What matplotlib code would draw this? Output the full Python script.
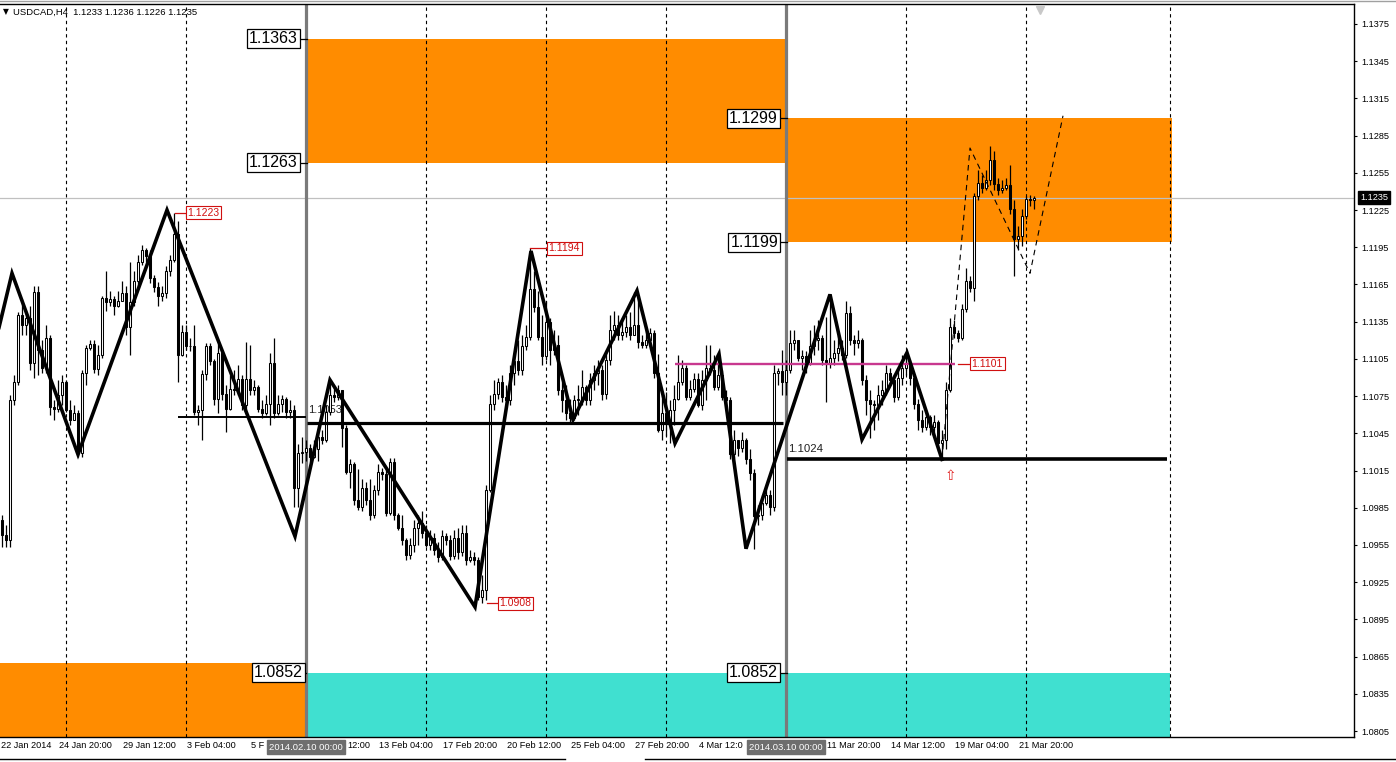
import numpy as np
import matplotlib
matplotlib.use('Agg')
import matplotlib.pyplot as plt
import matplotlib.transforms as mtransforms
from matplotlib.patches import Rectangle

plt.rcParams['font.family'] = ['Liberation Sans', 'DejaVu Sans']

# ---------------- data (USDCAD H4, prices in pips = price*1e4) ----------------
open0 = 10975
close_pips = [
10963,10959,11072,11086,11140,11132,11138,11102,11159,11112,
11098,11122,11066,11065,11076,11086,11064,11056,11061,11029,
11094,11114,11117,11097,11108,11154,11151,11153,11148,11152,
11158,11131,11151,11168,11183,11193,11188,11170,11163,11156,
11158,11176,11185,11206,11108,11127,11115,11115,11062,11064,
11093,11115,11103,11073,11110,11077,11065,11081,11080,11089,
11068,11089,11080,11082,11065,11061,11069,11102,11061,11069,
11073,11062,11064,11001,11029,11030,11033,11026,11032,11042,
11040,11062,11076,11074,11080,11049,11014,11020,10991,10986,
11001,10991,10979,10999,11014,11012,10981,11022,10979,10969,
10959,10947,10955,10969,10973,10965,10955,10961,10951,10945,
10962,10959,10946,10961,10949,10965,10943,10945,10943,10913,
10919,10999,11069,11077,11086,11074,11072,11094,11103,11096,
11115,11123,11161,11147,11123,11107,11135,11112,11116,11080,
11072,11061,11057,11072,11073,11082,11072,11088,11094,11096,
11077,11104,11128,11132,11124,11127,11131,11124,11132,11119,
11116,11120,11126,11094,11048,11061,11053,11064,11073,11086,
11098,11074,11081,11089,11068,11088,11098,11096,11082,11092,
11074,11072,11028,11040,11033,11040,11024,11013,10978,10979,
10989,10995,10986,11094,11095,11086,11096,11118,11120,11106,
11107,11102,11115,11120,11122,11104,11102,11106,11110,11114,
11108,11142,11120,11118,11120,11088,11072,11069,11068,11076,
11080,11094,11088,11074,11090,11098,11102,11090,11069,11056,
11050,11058,11050,11054,11037,11040,11080,11131,11126,11122,
11145,11168,11162,11236,11247,11243,11249,11265,11246,11241,
11243,11245,11226,11202,11204,11220,11234,11233,11235]
high_pips = [
10979,10971,11076,11092,11143,11153,11144,11148,11164,11164,
11120,11132,11124,11072,11088,11092,11088,11072,11068,11064,
11096,11116,11120,11120,11116,11156,11176,11160,11156,11160,
11168,11164,11183,11176,11189,11197,11194,11193,11173,11167,
11164,11180,11189,11223,11216,11132,11132,11122,11132,11068,
11096,11118,11118,11105,11117,11112,11084,11092,11096,11100,
11092,11119,11116,11088,11084,11072,11076,11110,11122,11076,
11076,11074,11072,11068,11036,11042,11040,11036,11040,11048,
11048,11068,11088,11084,11084,11080,11052,11024,11022,11016,
11008,11006,11008,11003,11020,11017,11016,11025,11025,10981,
10979,10961,10961,10975,10979,10982,10971,10967,10965,10957,
10967,10965,10963,10967,10969,10971,10971,10951,10949,10945,
10931,11003,11076,11088,11090,11092,11084,11100,11108,11120,
11124,11132,11194,11176,11160,11140,11152,11138,11128,11124,
11086,11084,11073,11076,11084,11096,11084,11094,11100,11104,
11100,11112,11140,11144,11140,11138,11140,11143,11159,11156,
11124,11128,11130,11128,11109,11076,11078,11072,11084,11108,
11104,11100,11088,11094,11094,11096,11116,11116,11108,11110,
11096,11080,11074,11048,11040,11046,11041,11032,11016,10987,
10995,11003,10999,11100,11098,11112,11104,11128,11128,11120,
11112,11111,11128,11132,11136,11124,11139,11156,11120,11124,
11120,11152,11148,11124,11128,11122,11092,11080,11072,11084,
11088,11100,11098,11092,11096,11108,11110,11104,11092,11073,
11064,11064,11060,11060,11056,11048,11086,11138,11136,11128,
11149,11178,11172,11239,11257,11253,11257,11277,11273,11251,
11249,11251,11261,11233,11212,11226,11236,11237,11236]
low_pips = [
10953,10953,10953,11068,11084,11124,11124,11096,11090,11092,
11094,11094,11060,11056,11062,11068,11062,11052,11056,11026,
11026,11084,11112,11094,11092,11106,11144,11148,11140,11147,
11152,11124,11108,11148,11164,11181,11183,11166,11159,11148,
11152,11154,11172,11183,11086,11107,11112,11111,11060,11052,
11040,11088,11100,11068,11061,11072,11046,11064,11076,11076,
11064,11062,11076,11076,11062,11057,11060,11052,11057,11060,
11062,11057,11057,10986,10986,11021,11023,11022,11025,11023,
11036,11038,11060,11070,11072,11034,11012,11001,10987,10983,
10982,10987,10975,10977,10995,11007,10978,10979,10975,10967,
10955,10943,10944,10949,10955,10961,10953,10951,10947,10941,
10943,10955,10943,10944,10944,10946,10939,10941,10939,10911,
10908,10911,10998,11064,11073,11070,11066,11068,11084,11092,
11092,11112,11120,11143,11120,11100,11104,11100,11108,11076,
11062,11056,11054,11056,11060,11068,11068,11068,11080,11084,
11072,11073,11100,11120,11120,11120,11123,11120,11124,11114,
11114,11114,11116,11090,11046,11040,11043,11037,11052,11072,
11084,11072,11072,11078,11066,11064,11072,11092,11080,11080,
11072,11068,11024,11025,11027,11030,11020,11007,10952,10971,
10975,10987,10979,10982,11084,11076,11076,11094,11112,11103,
11096,11094,11100,11108,11112,11100,11070,11098,11100,11103,
11104,11106,11116,11108,11114,11084,11060,11041,11048,11056,
11068,11076,11084,11070,11072,11084,11092,11084,11065,11048,
11046,11048,11044,11045,11031,11024,11032,11078,11122,11119,
11120,11143,11159,11152,11233,11239,11241,11245,11241,11237,
11239,11241,11222,11172,11193,11196,11218,11228,11226]
assert len(close_pips) == len(high_pips) == len(low_pips)

# zigzag indicator (bar index, price)
zz_bar = [-1, 2.5, 19, 41.25, 73.25, 82, 118.25, 132.25, 142.75, 158.75,
          168.25, 179.25, 186, 207, 215, 226.25, 235]
zz_price = [1.1127, 1.1174, 1.1028, 1.1225, 1.0962, 1.1088, 1.0905, 1.1192,
            1.1056, 1.1160, 1.1037, 1.1109, 1.0952, 1.1157, 1.1040, 1.1110, 1.1024]
proj_bar = [235, 242, 257, 265.25]
proj_price = [1.1024, 1.1275, 1.1174, 1.1301]

# zones: (start bar, end bar, low, high, colour)
zones = [
    (-2.0, 76.0, 1.0790, 1.0860, '#FF8C00'),
    (76.25, 196.0, 1.1263, 1.1363, '#FF8C00'),
    (196.25, 292.5, 1.1199, 1.1299, '#FF8C00'),
    (76.25, 292.0, 1.0790, 1.0852, '#40E0D0'),
]
# horizontal lines: (start bar, end bar, price, width, colour)
hlines = [
    (44.0, 76.0, 1.1058, 1.4, 'black'),
    (76.25, 195.25, 1.1053, 2.3, 'black'),
    (196.25, 291.25, 1.1024, 2.6, 'black'),
    (168.25, 238.25, 1.1101, 1.7, '#C8388F'),
]
# boxed level labels: (text, right-edge bar, price, connector end bar)
level_labels = [
    ('1.1363', 74.0, 1.1363, 76.25),
    ('1.1263', 74.0, 1.1263, 76.25),
    ('1.0852', 75.25, 1.0852, 76.0),
    ('1.1299', 194.0, 1.1299, 196.25),
    ('1.1199', 194.0, 1.1199, 196.25),
    ('1.0852', 194.0, 1.0852, 196.25),
]
# red swing labels: (text, connector start bar, box left bar, price)
swing_labels = [
    ('1.1223', 43.25, 46.0, 1.1223),
    ('1.1194', 132.0, 136.25, 1.1194),
    ('1.0908', 121.25, 124.0, 1.0908),
    ('1.1101', 239.0, 242.0, 1.1101),
]
grid_bars = [16, 46, 106, 136, 166, 226, 256, 292]
sep_bars = [76, 196]
sep_labels = ['2014.02.10 00:00', '2014.03.10 00:00']
# time labels (partly hidden ones are shown only by their visible part)
tick_bars = [0.5, 15, 31, 47, 63, 87, 95, 111, 127, 143, 159, 175, 207, 223, 239, 255]
tick_labels = ['22 Jan 2014', '24 Jan 20:00', '29 Jan 12:00', '3 Feb 04:00', '5 F',
               '12:00', '13 Feb 04:00', '17 Feb 20:00', '20 Feb 12:00', '25 Feb 04:00',
               '27 Feb 20:00', '4 Mar 12:0', '11 Mar 20:00', '14 Mar 12:00',
               '19 Mar 04:00', '21 Mar 20:00']
price_ticks = [1.0805, 1.0835, 1.0865, 1.0895, 1.0925, 1.0955, 1.0985, 1.1015, 1.1045,
               1.1075, 1.1105, 1.1135, 1.1165, 1.1195, 1.1225, 1.1255, 1.1285, 1.1315,
               1.1345, 1.1375]
last_price = 1.1235
title_text = 'USDCAD,H4  1.1233 1.1236 1.1226 1.1235'

# ---------------- figure ----------------
W, H = 1396, 762
fig = plt.figure(figsize=(W / 100, H / 100), dpi=100)
ax = fig.add_axes([0, 25 / H, 1354 / W, 733 / H])
ax.set_xlim(-0.5, 338)
ax.set_ylim(1.08002, 1.13911)
ax.set_facecolor('white')

close = np.array(close_pips) / 1e4
high = np.array(high_pips) / 1e4
low = np.array(low_pips) / 1e4
opens = np.concatenate([[open0 / 1e4], close[:-1]])
bars = np.arange(len(close))

# zones
for x0, x1, lo, hi, col in zones:
    ax.add_patch(Rectangle((x0, lo), x1 - x0, hi - lo, facecolor=col, edgecolor='none', zorder=1))

# grid
for gb in grid_bars:
    ax.axvline(gb, color='black', lw=0.8, ls=(0, (3, 3)), zorder=1.5)
ax.axhline(last_price, color='#c0c0c0', lw=0.9, zorder=1.6)
for sb in sep_bars:
    ax.axvline(sb, color='#7a7a7a', lw=2.3, zorder=2)

# candles
ax.vlines(bars, low, high, colors='black', lw=0.9, zorder=3)
bull = close >= opens
ax.bar(bars, np.abs(close - opens), bottom=np.minimum(opens, close), width=0.55,
       color=np.where(bull, 'white', 'black'), edgecolor='black', linewidth=0.75, zorder=3.5)

# horizontal lines
for x0, x1, p, lw, col in hlines:
    ax.plot([x0, x1], [p, p], color=col, lw=lw, solid_capstyle='butt', zorder=4)

# zigzag
ax.plot(zz_bar, zz_price, color='black', lw=2.6, solid_joinstyle='miter', zorder=5)
ax.plot(proj_bar, proj_price, color='black', lw=0.8, ls=(0, (5, 4)), zorder=5)

# level labels
for txt, xr, p, xc in level_labels:
    ax.plot([xr + 0.5, xc], [p, p], color='black', lw=0.9, zorder=6)
    ax.text(xr, p, txt, ha='right', va='center', fontsize=11.5, color='black', zorder=7,
            bbox=dict(boxstyle='square,pad=0.12', fc='white', ec='black', lw=0.9))

# swing labels
for txt, xs, xb, p in swing_labels:
    ax.plot([xs, xb], [p, p], color='#d01010', lw=0.9, zorder=6)
    ax.text(xb + 0.4, p, txt, ha='left', va='center', fontsize=7.5, color='#d01010', zorder=7,
            bbox=dict(boxstyle='square,pad=0.15', fc='white', ec='#d01010', lw=0.8))

ax.text(76.5, 1.1064, '1.1053', ha='left', va='center', fontsize=8, color='#202020', zorder=3.2)
ax.text(196.6, 1.1032, '1.1024', ha='left', va='center', fontsize=8.2, color='#202020', zorder=6)
ax.text(237.0, 1.1011, '\u21e7', ha='center', va='center', fontsize=10, color='#e02020',
        family=['DejaVu Sans'], zorder=6)

# title
ax.text(3 / 1354, 1 - 8 / 733, '\u25bc', transform=ax.transAxes, ha='left', va='center',
        fontsize=5.5, color='black', family=['DejaVu Sans'], zorder=8)
ax.text(13 / 1354, 1 - 8 / 733, title_text, transform=ax.transAxes, ha='left', va='center',
        fontsize=6.8, color='black', zorder=8)
# chart shift marker
ax.plot([259.5], [1.1386], marker='v', color='#c8c8c8', markersize=6, clip_on=False, zorder=8)

# axes styling
ax.spines['left'].set_visible(False)
for s in ['top', 'right', 'bottom']:
    ax.spines[s].set_linewidth(1.0)
    ax.spines[s].set_color('black')
ax.yaxis.tick_right()
ax.set_yticks(price_ticks)
ax.set_yticklabels(['%.4f' % v for v in price_ticks])
ax.tick_params(axis='y', length=2.2, width=0.8, pad=2.8, labelsize=6.6, colors='black')
ax.set_xticks(tick_bars)
ax.set_xticklabels(tick_labels, ha='left')
ax.tick_params(axis='x', length=0, pad=3.2, labelsize=6.6)
shift = mtransforms.ScaledTranslation(-3 / 100, 0, fig.dpi_scale_trans)
for lab in ax.get_xticklabels():
    lab.set_transform(lab.get_transform() + shift)

# current price tag
trans = mtransforms.blended_transform_factory(ax.transAxes, ax.transData)
ax.text(1 + 6 / 1354, last_price, '%.4f' % last_price, transform=trans, ha='left', va='center',
        fontsize=6.6, color='white', zorder=10, clip_on=False,
        bbox=dict(boxstyle='square,pad=0.2', fc='black', ec='black'))

# separator time boxes
transx = mtransforms.blended_transform_factory(ax.transData, ax.transAxes)
for sb, lab in zip(sep_bars, sep_labels):
    ax.text(sb, -10 / 733, lab, transform=transx, ha='center', va='center', fontsize=6.8,
            color='white', zorder=10, clip_on=False,
            bbox=dict(boxstyle='square,pad=0.25', fc='#6e6e6e', ec='#6e6e6e'))

# bottom tab border
fig.add_artist(plt.Line2D([0, 565 / W], [3 / H, 3 / H], color='black', lw=1))
fig.add_artist(plt.Line2D([645 / W, 1], [3 / H, 3 / H], color='black', lw=1))
fig.add_artist(plt.Line2D([0, 1], [1 - 1 / H, 1 - 1 / H], color='#a0a0a0', lw=1))

fig.savefig('out.png', dpi=100, facecolor='white')
